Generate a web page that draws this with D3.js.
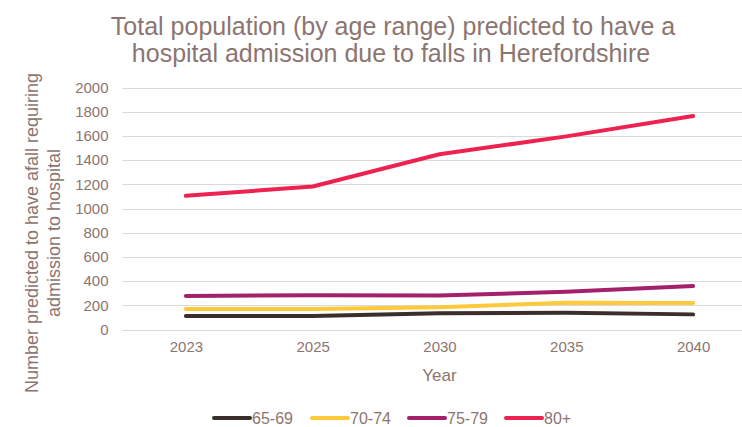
<!DOCTYPE html>
<html>
<head>
<meta charset="utf-8">
<script src="https://cdn.jsdelivr.net/npm/d3@7"></script>
<style>
  body { margin: 0; background: #fff; }
  text { font-family: "Liberation Sans", Arial, sans-serif; fill: #8c7570; }
</style>
</head>
<body>
<script>
// chart data
const years = ["2023", "2025", "2030", "2035", "2040"];
const ageGroups = ["65-69", "70-74", "75-79", "80+"];
const values6569 = [112, 112, 134, 139, 125];
const values7074 = [169, 170, 183, 222, 220];
const values7579 = [277, 284, 280, 312, 360];
const values80 = [1105, 1182, 1448, 1596, 1765];
const yTicks = [0, 200, 400, 600, 800, 1000, 1200, 1400, 1600, 1800, 2000];
const colours = ["#3b2f2b", "#ffc93c", "#a3206b", "#ee2250"];

const series = ageGroups.map((g, i) => ({
    name: g,
    colour: colours[i],
    values: [values6569, values7074, values7579, values80][i]
}));

var width = 742, height = 427;
var margin = {top: 87.5, left: 122.5, right: 756.5, bottom: 329.5};

var svg = d3.select("body").append("svg")
    .attr("width", width)
    .attr("height", height);

// x: category axis, labels between tick marks like Excel
var x = d3.scalePoint()
    .domain(years)
    .range([margin.left, margin.right])
    .padding(0.5);

var y = d3.scaleLinear()
    .domain([0, 2000])
    .range([margin.bottom, margin.top]);

// title
var title = svg.append("text")
    .attr("x", 393)
    .attr("y", 35)
    .attr("text-anchor", "middle")
    .attr("font-size", "25px");
title.append("tspan").attr("x", 393).text("Total population (by age range) predicted to have a");
title.append("tspan").attr("x", 391).attr("dy", 27).text("hospital admission due to falls in Herefordshire");

// gridlines
svg.append("g")
    .selectAll("line")
    .data(yTicks)
    .enter().append("line")
    .attr("x1", margin.left)
    .attr("x2", width)
    .attr("y1", d => Math.round(y(d)) + 0.5)
    .attr("y2", d => Math.round(y(d)) + 0.5)
    .attr("stroke", "#d9d9d9")
    .attr("stroke-width", 1);

// y axis labels
var yAxis = svg.append("g")
    .attr("transform", "translate(" + (margin.left - 6) + ",0)")
    .call(d3.axisLeft(y).tickValues(yTicks).tickFormat(d3.format("d")).tickSize(0).tickPadding(8));
yAxis.select(".domain").remove();
yAxis.selectAll("text")
    .attr("font-size", "15px")
    .attr("fill", "#8c7570");

// x axis labels
var xAxis = svg.append("g")
    .attr("transform", "translate(0," + margin.bottom + ")")
    .call(d3.axisBottom(x).tickSize(0).tickPadding(12));
xAxis.select(".domain").remove();
xAxis.selectAll("text")
    .attr("font-size", "15px")
    .attr("fill", "#8c7570");

// axis titles
svg.append("text")
    .attr("x", (margin.left + margin.right) / 2)
    .attr("y", 381)
    .attr("text-anchor", "middle")
    .attr("font-size", "17px")
    .text("Year");

var yTitle = svg.append("text")
    .attr("transform", "translate(38,233) rotate(-90)")
    .attr("text-anchor", "middle")
    .attr("font-size", "18px");
yTitle.append("tspan").attr("x", 0).text("Number  predicted to have afall requiring");
yTitle.append("tspan").attr("x", 0).attr("dy", 22).text("admission to hospital");

// lines
var line = d3.line()
    .x((d, i) => x(years[i]))
    .y(d => y(d));

svg.append("g")
    .selectAll("path")
    .data(series)
    .enter().append("path")
    .attr("d", d => line(d.values))
    .attr("fill", "none")
    .attr("stroke", d => d.colour)
    .attr("stroke-width", 4)
    .attr("stroke-linecap", "round")
    .attr("stroke-linejoin", "round");

// legend
var legendX = [214, 312, 409, 506];
var legend = svg.append("g")
    .selectAll("g")
    .data(series)
    .enter().append("g")
    .attr("transform", (d, i) => "translate(" + legendX[i] + ",418)");

legend.append("line")
    .attr("x1", 0)
    .attr("x2", 36)
    .attr("stroke", d => d.colour)
    .attr("stroke-width", 4)
    .attr("stroke-linecap", "round");

legend.append("text")
    .attr("x", 38)
    .attr("y", 5.5)
    .attr("font-size", "16px")
    .text(d => d.name);
</script>
</body>
</html>
